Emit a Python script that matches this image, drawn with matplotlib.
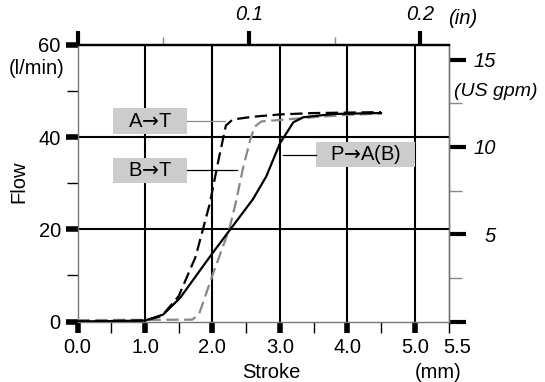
import matplotlib
matplotlib.use("Agg")
import matplotlib.pyplot as plt
from matplotlib.patches import Rectangle
from matplotlib.transforms import ScaledTranslation

plt.rcParams['font.family'] = ['Liberation Sans', 'DejaVu Sans']
plt.rcParams['mathtext.fontset'] = 'dejavusans'

# ---- data ----
stroke_pa = [0.0, 1.0, 1.27, 1.52, 2.0, 2.41, 2.6, 2.8, 3.0, 3.2, 3.35, 3.8, 4.5]
flow_pa = [0.0, 0.2, 1.5, 5.1, 14.8, 22.8, 26.5, 31.5, 38.6, 43.2, 44.3, 45.0, 45.2]

stroke_at = [0.0, 1.0, 1.25, 1.5, 1.75, 1.96, 2.09, 2.2, 2.3, 2.6, 3.0, 3.5, 4.5]
flow_at = [0.0, 0.2, 1.2, 5.5, 14.0, 25.5, 35.0, 42.5, 43.8, 44.4, 44.9, 45.2, 45.4]

stroke_bt = [0.0, 1.7, 1.8, 2.0, 2.25, 2.35, 2.45, 2.56, 2.63, 2.73, 3.0, 3.5, 4.0, 4.5]
flow_bt = [0.3, 0.4, 1.5, 10.0, 20.0, 26.0, 33.0, 39.4, 42.3, 43.4, 43.7, 44.3, 44.8, 45.1]

x_major = [0, 1, 2, 3, 4, 5]
x_major_labels = ["0.0", "1.0", "2.0", "3.0", "4.0", "5.0"]
x_minor = [0.5, 1.5, 2.5, 3.5, 4.5, 5.5]
y_major = [0, 20, 40, 60]
y_minor = [10, 30, 50]
in_major = [0.0, 0.1, 0.2]
in_major_labels = ["", "0.1", "0.2"]
in_minor = [0.05, 0.15]
gpm_major = [0, 5, 10, 15]
gpm_major_labels = ["", "5", "10", "15"]
gpm_minor = [2.5, 7.5, 12.5]

labels = ["A$\u2192$T", "B$\u2192$T", "P$\u2192$A(B)"]
# label boxes: (x0, x1, y0, y1) in data units, leader end (x, y)
label_boxes = [(0.53, 1.62, 40.7, 46.2), (0.53, 1.62, 30.1, 35.5), (3.53, 5.0, 33.4, 38.9)]
leader_ends = [(2.19, 43.4), (2.36, 32.9), (3.04, 36.2)]
leader_colors = ["#888888", "black", "black"]

FS = 14.5
GRAY = "#888888"
SP = "#777777"

fig = plt.figure(figsize=(5.45, 3.82), dpi=100)
ax = fig.add_axes([77.5 / 545, (382 - 321.5) / 382, 371 / 545, (321.5 - 44.8) / 382])
ax.set_xlim(0, 5.5)
ax.set_ylim(0, 60)

# grid lines
for xv in x_major[1:]:
    ax.axvline(xv, color="black", lw=1.5, zorder=1)
for yv in y_major[1:-1]:
    ax.axhline(yv, color="black", lw=1.5, zorder=1)

# curves
ax.plot(stroke_pa, flow_pa, color="black", lw=1.6, zorder=4)
ax.plot(stroke_at, flow_at, color="black", lw=1.6, ls=(0, (5.5, 2.5)), zorder=4)
ax.plot(stroke_bt, flow_bt, color=GRAY, lw=1.6, ls=(0, (5.5, 2.5)), zorder=3)

# label boxes with leader lines
for txt, (x0, x1, y0, y1), (lx, ly), lc in zip(labels, label_boxes, leader_ends, leader_colors):
    ax.add_patch(Rectangle((x0, y0), x1 - x0, y1 - y0, facecolor="#cccccc",
                           edgecolor="none", zorder=5))
    ax.text((x0 + x1) / 2, (y0 + y1) / 2, txt, ha="center", va="center",
            fontsize=FS, zorder=6)
    if lx > x1:
        ax.plot([x1, lx], [ly, ly], color=lc, lw=0.9, zorder=5)
    else:
        ax.plot([lx, x0], [ly, ly], color=lc, lw=0.9, zorder=5)

# spines
for s in ["left", "bottom", "right"]:
    ax.spines[s].set_color(SP)
    ax.spines[s].set_linewidth(1.0)
ax.spines["top"].set_color("black")
ax.spines["top"].set_linewidth(1.6)

# main x ticks
ax.set_xticks(x_major, x_major_labels)
ax.set_xticks(x_minor, [""] * (len(x_minor) - 1) + ["5.5"], minor=True)
ax.tick_params(axis="x", which="major", length=8, width=4, direction="out",
               labelsize=FS, pad=4, color="black")
ax.tick_params(axis="x", which="minor", length=8, width=1, direction="out",
               labelsize=FS, pad=4, color="black")
for lab in ax.get_xticklabels(minor=True):
    lab.set_transform(lab.get_transform() + ScaledTranslation(9 / 100, 0, fig.dpi_scale_trans))

# main y ticks
ax.set_yticks(y_major, [str(v) for v in y_major])
ax.set_yticks(y_minor, minor=True)
ax.tick_params(axis="y", which="major", length=9, width=4, direction="out",
               labelsize=FS, pad=3, color="black")
ax.tick_params(axis="y", which="minor", length=8, width=1, direction="out", color="black")
ax.tick_params(axis="y", which="both", right=False)

# top axis (inches)
top = ax.secondary_xaxis("top", functions=(lambda v: v / 25.4, lambda v: v * 25.4))
top.set_xticks(in_major, in_major_labels)
top.set_xticks(in_minor, minor=True)
top.tick_params(axis="x", which="major", length=10, width=3, direction="out",
                labelsize=FS, pad=5, color="black")
top.tick_params(axis="x", which="minor", length=6, width=1, direction="out", color=GRAY)
for lab in top.get_xticklabels():
    lab.set_fontstyle("italic")
top.spines["top"].set_color("black")
top.spines["top"].set_linewidth(1.6)

# right axis (US gpm)
right = ax.secondary_yaxis("right", functions=(lambda v: v / 3.785, lambda v: v * 3.785))
right.set_yticks(gpm_major, gpm_major_labels)
right.set_yticks(gpm_minor, minor=True)
right.tick_params(axis="y", which="major", length=12, width=3, direction="out",
                  labelsize=FS, pad=22, color="black")
right.tick_params(axis="y", which="minor", length=9, width=1, direction="out", color=GRAY)
for lab in right.get_yticklabels():
    lab.set_fontstyle("italic")
    lab.set_ha("right")
right.spines["right"].set_color(SP)
right.spines["right"].set_linewidth(1.0)

# axis titles and unit labels
fig.text(19 / 545, 1 - 182 / 382, "Flow", rotation=90, ha="center", va="center", fontsize=FS)
fig.text(271 / 545, 1 - 372 / 382, "Stroke", ha="center", va="center", fontsize=FS)
fig.text(438 / 545, 1 - 373 / 382, "(mm)", ha="center", va="center", fontsize=FS)
fig.text(64 / 545, 1 - 69 / 382, "(l/min)", ha="right", va="center", fontsize=FS)
fig.text(463 / 545, 1 - 18 / 382, "(in)", ha="center", va="center", fontsize=FS,
         fontstyle="italic")
fig.text(454 / 545, 1 - 91 / 382, "(US gpm)", ha="left", va="center", fontsize=FS - 0.5,
         fontstyle="italic")

fig.savefig("out.png", dpi=100)
